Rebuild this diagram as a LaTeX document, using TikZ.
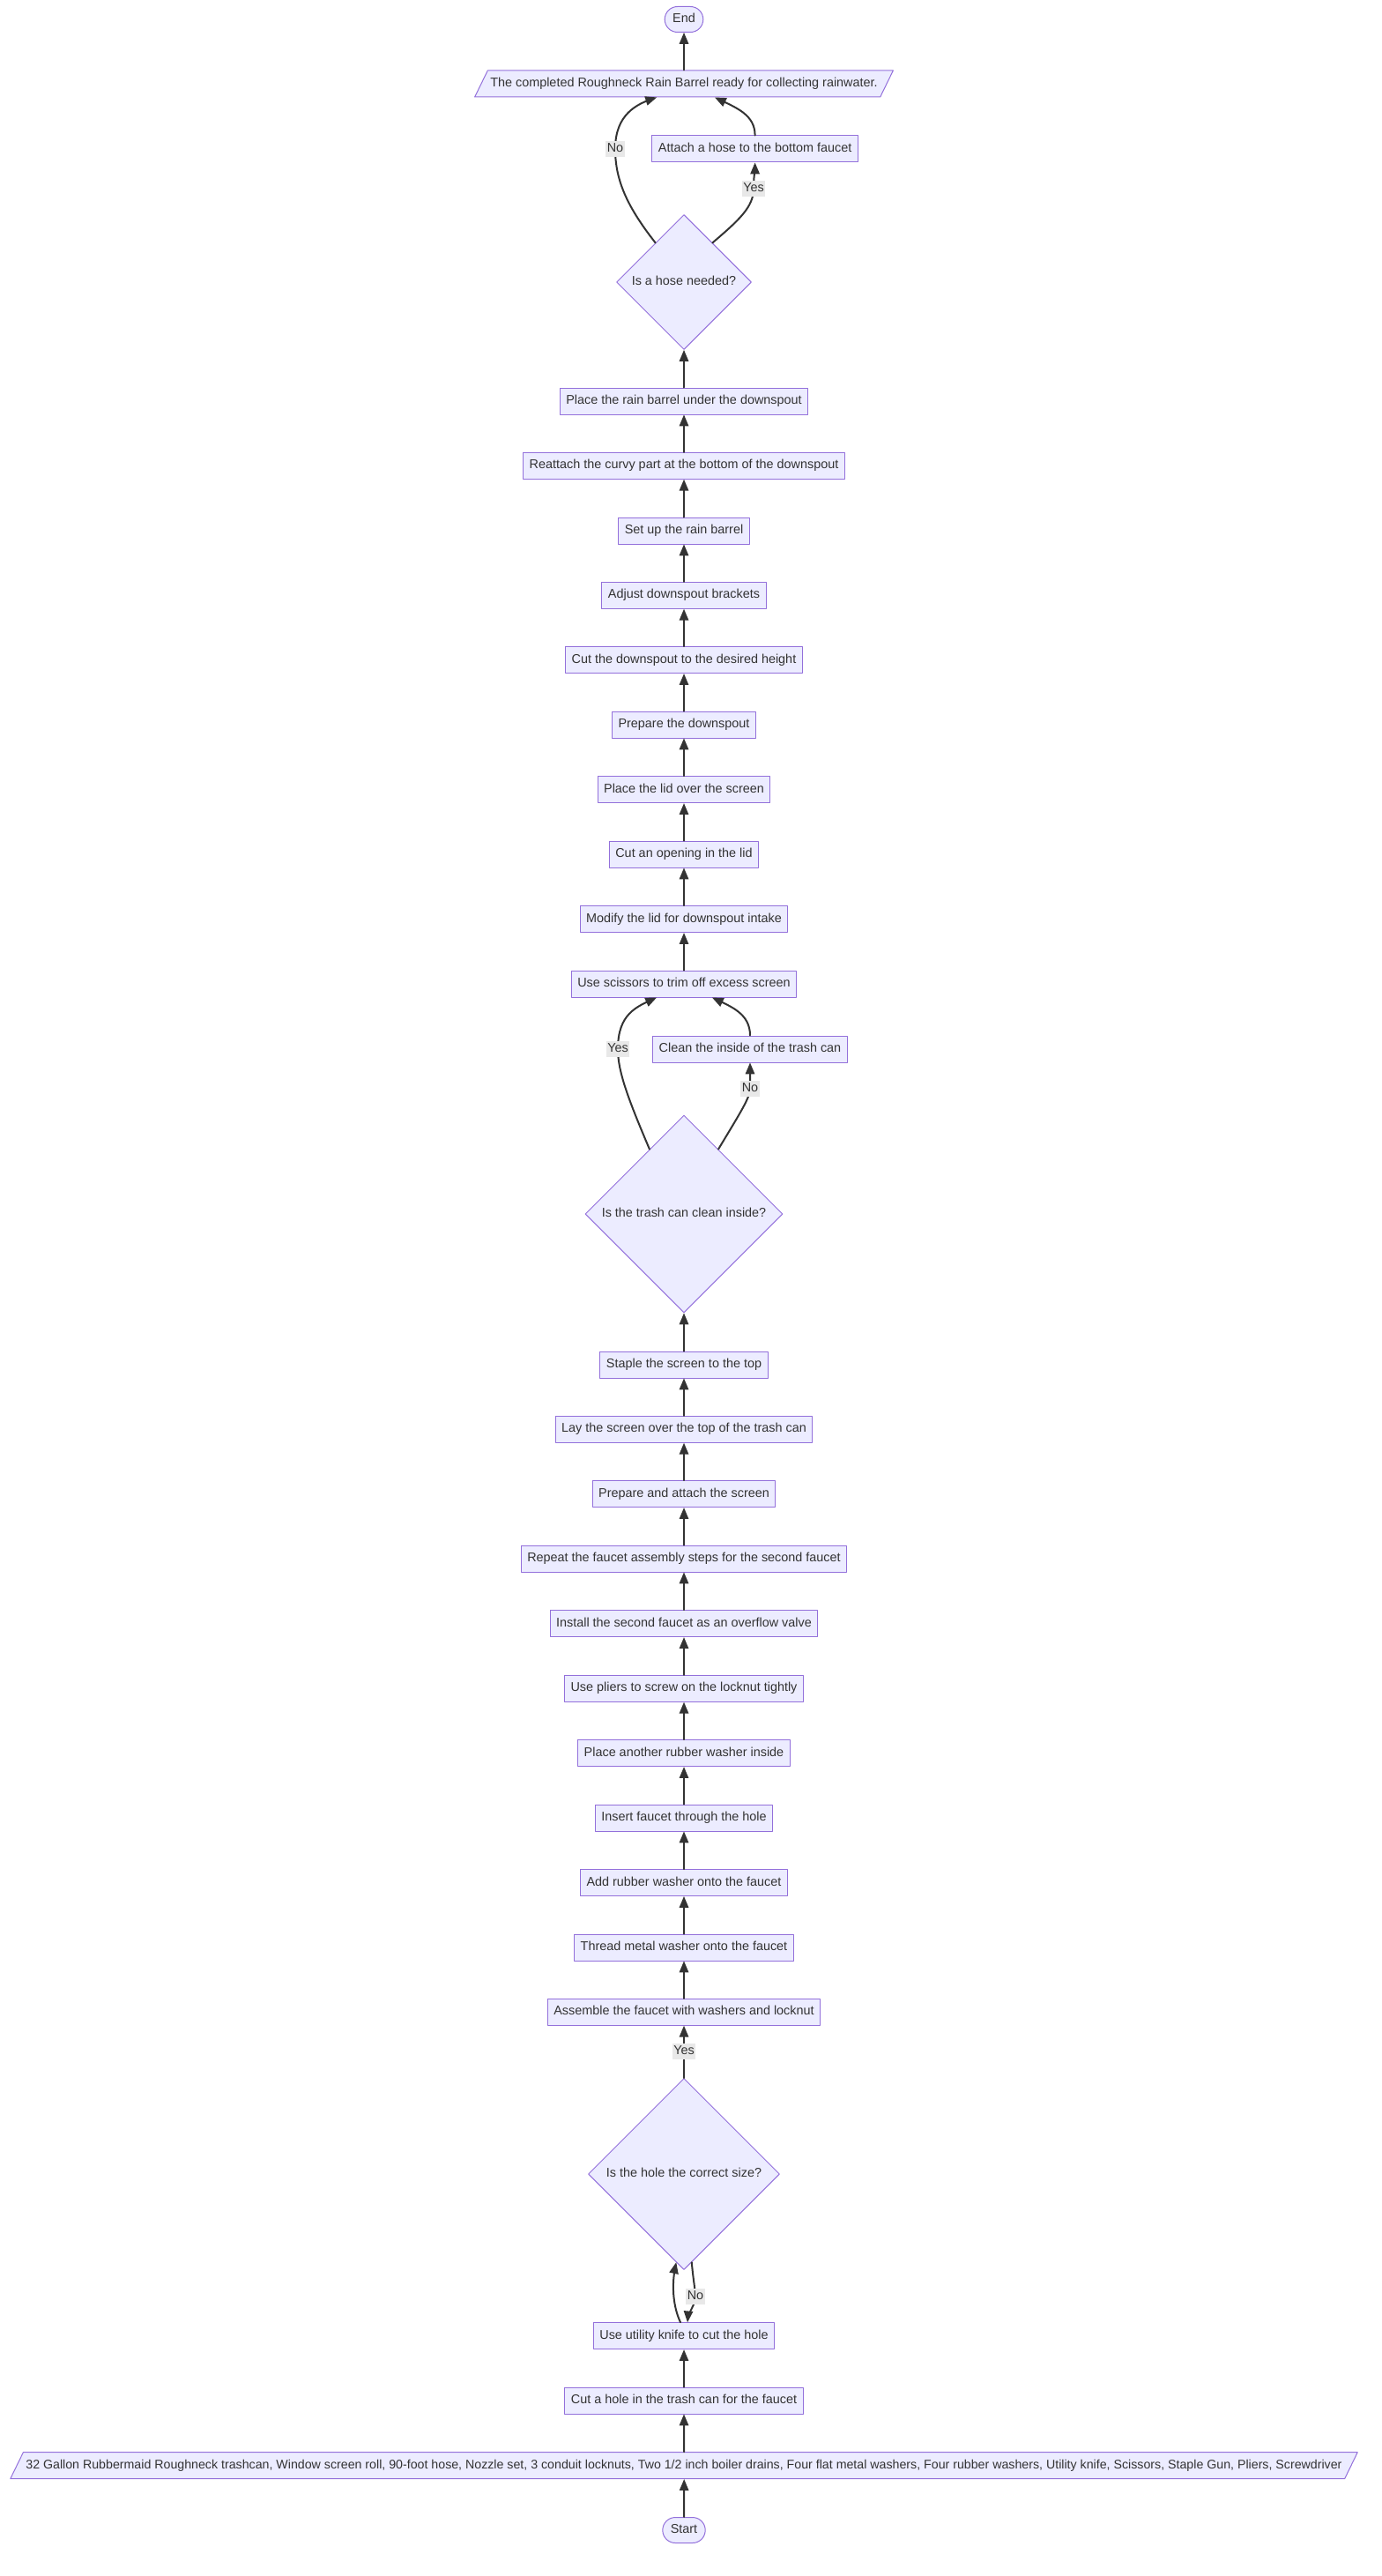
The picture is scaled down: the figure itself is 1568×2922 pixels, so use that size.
\documentclass[tikz,border=0pt]{standalone}
\usepackage{fontspec}
\setmainfont{Liberation Sans}
\usetikzlibrary{arrows,shapes.geometric,calc}
\definecolor{ececff}{rgb}{0.925,0.925,1}
\definecolor{ttqqdb}{rgb}{0.576,0.439,0.859}
\definecolor{qqqqtt}{rgb}{0.2,0.2,0.2}
\definecolor{eeeeee}{rgb}{0.91,0.91,0.91}

\begin{document}
\begin{tikzpicture}[line cap=round,line join=round,>=triangle 45,x=1pt,y=-1pt,
		every node/.style={font=\fontsize{14.4}{17}\selectfont,text=qqqqtt,text height=11pt,text depth=4pt},
		box/.style={rectangle,draw=ttqqdb,fill=ececff,line width=1pt,minimum height=30pt,inner xsep=7pt},
		term/.style={rectangle,rounded corners=14.5pt,draw=ttqqdb,fill=ececff,line width=1pt,minimum height=29pt,inner xsep=9pt},
		io/.style={trapezium,trapezium left angle=64,trapezium right angle=116,draw=ttqqdb,fill=ececff,line width=1pt,inner xsep=3pt,inner ysep=7.5pt},
		dec/.style={diamond,aspect=1,draw=ttqqdb,fill=ececff,line width=1pt,inner sep=0pt},
		flow/.style={->,draw=qqqqtt,line width=2pt},
		lbl/.style={fill=eeeeee,inner sep=1.5pt}]
		\useasboundingbox (0,0) rectangle (1568,2922);
		\node[term] (end) at (776,22) {End};
		\node[io] (done) at (776,95) {The completed Roughneck Rain Barrel ready for collecting rainwater.};
		\node[box] (attach) at (856.6,169) {Attach a hose to the bottom faucet};
		\node[dec,minimum size=153pt] (hose) at (776,320) {Is a hose needed?};
		\node[box] (place) at (776,455) {Place the rain barrel under the downspout};
		\node[box] (reattach) at (776,528.3) {Reattach the curvy part at the bottom of the downspout};
		\node[box] (setup) at (776,602) {Set up the rain barrel};
		\node[box] (adjust) at (776,675.3) {Adjust downspout brackets};
		\node[box] (cutdown) at (776,748.7) {Cut the downspout to the desired height};
		\node[box] (prepdown) at (776,822) {Prepare the downspout};
		\node[box] (lid) at (776,895.7) {Place the lid over the screen};
		\node[box] (opening) at (776,969) {Cut an opening in the lid};
		\node[box] (modify) at (776,1042.7) {Modify the lid for downspout intake};
		\node[box] (scissors) at (776,1116) {Use scissors to trim off excess screen};
		\node[box] (clean) at (851,1190) {Clean the inside of the trash can};
		\node[dec,minimum size=224pt] (trash) at (776,1377) {Is the trash can clean inside?};
		\node[box] (staple) at (776,1548) {Staple the screen to the top};
		\node[box] (lay) at (776,1621.3) {Lay the screen over the top of the trash can};
		\node[box] (prepscreen) at (776,1694.7) {Prepare and attach the screen};
		\node[box] (again) at (776,1768) {Repeat the faucet assembly steps for the second faucet};
		\node[box] (install) at (776,1841.7) {Install the second faucet as an overflow valve};
		\node[box] (pliers) at (776,1915.3) {Use pliers to screw on the locknut tightly};
		\node[box] (another) at (776,1988.7) {Place another rubber washer inside};
		\node[box] (insert) at (776,2062) {Insert faucet through the hole};
		\node[box] (rubber) at (776,2135.5) {Add rubber washer onto the faucet};
		\node[box] (metal) at (776,2209) {Thread metal washer onto the faucet};
		\node[box] (assemble) at (776,2282.3) {Assemble the faucet with washers and locknut};
		\node[dec,minimum size=217pt] (hole) at (776,2466) {Is the hole the correct size?};
		\node[box] (knife) at (776,2649.7) {Use utility knife to cut the hole};
		\node[box] (cuthole) at (776,2723) {Cut a hole in the trash can for the faucet};
		\node[io,font=\fontsize{14.2}{17}\selectfont] (items) at (776,2796.7) {32 Gallon Rubbermaid Roughneck trashcan, Window screen roll, 90-foot hose, Nozzle set, 3 conduit locknuts, Two 1/2 inch boiler drains, Four flat metal washers, Four rubber washers, Utility knife, Scissors, Staple Gun, Pliers, Screwdriver};
		\node[term] (start) at (776,2870) {Start};
		\draw[flow] (start) -- (items);
		\draw[flow] (items) -- (cuthole);
		\draw[flow] (cuthole) -- (knife);
		\draw[flow] ($(knife.north)+(-4,0)$) .. controls (763,2615) and (762,2590) .. (hole.265);
		\draw[flow] (hole.275) .. controls (787,2590) and (789,2598) .. (789,2605) node[lbl] {No} .. controls (789,2615) and (781,2622) .. ($(knife.north)+(4,0)$);
		\draw[flow] (hole) -- node[lbl] {Yes} (assemble);
		\draw[flow] (assemble) -- (metal);
		\draw[flow] (metal) -- (rubber);
		\draw[flow] (rubber) -- (insert);
		\draw[flow] (insert) -- (another);
		\draw[flow] (another) -- (pliers);
		\draw[flow] (pliers) -- (install);
		\draw[flow] (install) -- (again);
		\draw[flow] (again) -- (prepscreen);
		\draw[flow] (prepscreen) -- (lay);
		\draw[flow] (lay) -- (staple);
		\draw[flow] (staple) -- (trash);
		\draw[flow] (trash.118) .. controls (712,1245) and (701,1215) .. (701,1190) node[lbl] {Yes} .. controls (701,1150) and (722,1142) .. ($(scissors.south)+(-31,0)$);
		\draw[flow] (trash.62) .. controls (840,1262) and (851,1245) .. (851,1235) node[lbl] {No} -- (clean.south);
		\draw[flow] (clean.north) .. controls (851,1150) and (830,1142) .. ($(scissors.south)+(32,0)$);
		\draw[flow] (scissors) -- (modify);
		\draw[flow] (modify) -- (opening);
		\draw[flow] (opening) -- (lid);
		\draw[flow] (lid) -- (prepdown);
		\draw[flow] (prepdown) -- (cutdown);
		\draw[flow] (cutdown) -- (adjust);
		\draw[flow] (adjust) -- (setup);
		\draw[flow] (setup) -- (reattach);
		\draw[flow] (reattach) -- (place);
		\draw[flow] (place) -- (hose);
		\draw[flow] (hose.126) .. controls (712,235) and (698,205) .. (698,169) node[lbl] {No} .. controls (698,130) and (722,118) .. ($(done.south)+(-31,0)$);
		\draw[flow] (hose.54) .. controls (838,250) and (855,235) .. (855,214) node[lbl] {Yes} .. controls (855,200) and (856.6,195) .. (attach.south);
		\draw[flow] (attach.north) .. controls (856.6,130) and (835,122) .. ($(done.south)+(35,0)$);
		\draw[flow] (done) -- (end);
	\end{tikzpicture}
\end{document}
